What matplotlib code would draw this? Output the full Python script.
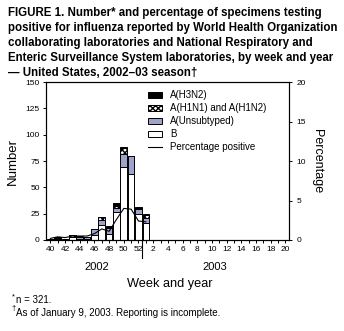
import numpy as np
import matplotlib.pyplot as plt

plt.rcParams['font.family'] = ['Liberation Sans', 'DejaVu Sans']

# weeks on the x axis (2002 season weeks 40-52, then 2003 weeks 1-20)
weeks = [40, 41, 42, 43, 44, 45, 46, 47, 48, 49, 50, 51, 52] + list(range(1, 21))

# reported weeks only (40 .. 52, 1)
b_counts = [0, 1, 0, 3, 1, 1, 5, 14, 6, 27, 69, 63, 25, 16]
unsub_counts = [0, 0, 0, 0, 2, 2, 5, 5, 5, 3, 13, 17, 4, 5]
h1n1_counts = [0, 0, 0, 2, 0, 0, 0, 3, 0, 2, 5, 0, 0, 3]
h3n2_counts = [1, 2, 1, 0, 1, 0, 0, 0, 2, 3, 1, 0, 2, 1]
pct_positive = [0.2, 0.4, 0.3, 0.5, 0.5, 0.5, 0.8, 1.4, 1.1, 2.6, 4.0, 3.9, 2.4, 2.3]

title = ("FIGURE 1. Number* and percentage of specimens testing\n"
         "positive for influenza reported by World Health Organization\n"
         "collaborating laboratories and National Respiratory and\n"
         "Enteric Surveillance System laboratories, by week and year\n"
         "\u2014 United States, 2002\u201303 season\u2020")

fig = plt.figure(figsize=(3.44, 3.31), dpi=100)
ax = fig.add_axes([0.1337, 0.275, 0.7063, 0.477])

x = np.arange(len(b_counts))
w = 0.9
ec = dict(edgecolor='black', linewidth=0.7)

bot = np.zeros(len(x))
ax.bar(x, b_counts, w, bottom=bot, color='white', label='B', **ec)
bot += b_counts
ax.bar(x, unsub_counts, w, bottom=bot, color='#9ea3cc', label='A(Unsubtyped)', **ec)
bot += unsub_counts
ax.bar(x, h1n1_counts, w, bottom=bot, color='white', hatch='xxxxxx',
       label='A(H1N1) and A(H1N2)', **ec)
bot += h1n1_counts
ax.bar(x, h3n2_counts, w, bottom=bot, color='black', label='A(H3N2)', **ec)

ax.set_xlim(-0.6, 32.5)
ax.set_ylim(0, 150)
ax.set_yticks(range(0, 151, 25))
ax.set_xticks(np.arange(len(weeks)))
ax.set_xticklabels([str(wk) if wk % 2 == 0 else '' for wk in weeks])
ax.tick_params(axis='both', labelsize=6, length=2.5, width=0.7, pad=2)
for s in ax.spines.values():
    s.set_linewidth(0.8)

ax2 = ax.twinx()
ax2.plot(x, pct_positive, color='black', linewidth=0.8, label='Percentage positive')
ax2.set_ylim(0, 20)
ax2.set_yticks(range(0, 21, 5))
ax2.tick_params(axis='y', labelsize=6, length=2.5, width=0.7, pad=3)

# year divider below the axis
ax.plot([12.5, 12.5], [0, -17], color='black', linewidth=0.8, clip_on=False)

ax.set_ylabel('Number', fontsize=9.5, labelpad=5)
ax2.set_ylabel('Percentage', fontsize=9, rotation=-90, labelpad=12)

fig.text(0.281, 0.192, '2002', fontsize=8, ha='center', va='center')
fig.text(0.625, 0.192, '2003', fontsize=8, ha='center', va='center')
fig.text(0.494, 0.142, 'Week and year', fontsize=9.2, ha='center', va='center')

h, l = ax.get_legend_handles_labels()
h2, l2 = ax2.get_legend_handles_labels()
order = [3, 2, 1, 0]
ax.legend([h[i] for i in order] + h2, [l[i] for i in order] + l2,
          loc='upper left', bbox_to_anchor=(0.39, 0.99), frameon=False,
          fontsize=7, handlelength=1.5, handleheight=0.6,
          labelspacing=0.3, borderpad=0.2, handletextpad=0.8)

fig.text(0.023, 0.978, title, fontsize=8.3, fontweight='bold',
         ha='left', va='top', linespacing=1.32)

fig.text(0.035, 0.103, '*', fontsize=5.5, ha='left', va='center')
fig.text(0.047, 0.095, 'n = 321.', fontsize=7, ha='left', va='center')
fig.text(0.033, 0.068, '\u2020', fontsize=5.5, ha='left', va='center')
fig.text(0.047, 0.055, 'As of January 9, 2003. Reporting is incomplete.',
         fontsize=7, ha='left', va='center')

fig.savefig('out.png', dpi=100)
